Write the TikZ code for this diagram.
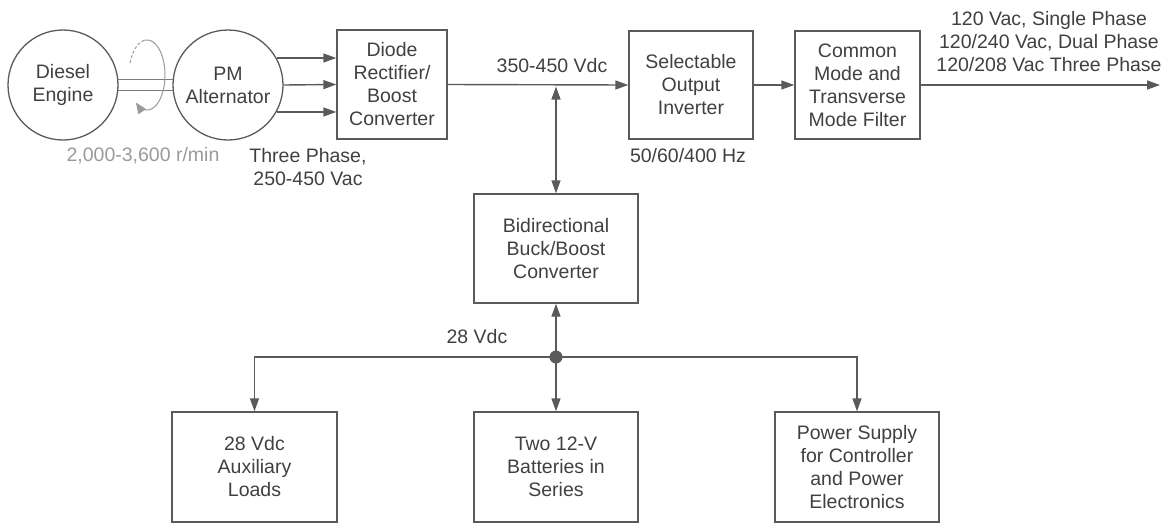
\documentclass[tikz,border=0pt]{standalone}
\usepackage{fontspec}
\setmainfont{Liberation Sans}
\usetikzlibrary{arrows.meta}
\definecolor{ln}{HTML}{5A5A5A}
\definecolor{tx}{HTML}{404040}
\definecolor{lt}{HTML}{9A9A9A}
\begin{document}
\begin{tikzpicture}[x=1pt,y=-1pt,
  every node/.style={font=\fontsize{19.5}{23}\selectfont, text=tx, align=center, inner sep=0pt},
  blk/.style={draw=ln, line width=1.4pt, rectangle},
  circ/.style={draw=ln, circle, line width=1.3pt, minimum size=110pt},
  tip/.style={-{Triangle[length=13pt,width=9pt]}},
  conn/.style={draw=ln, line width=1.4pt, tip},
  dconn/.style={draw=ln, line width=1.4pt, {Triangle[length=13pt,width=9pt]}-{Triangle[length=13pt,width=9pt]}},
  shaft/.style={draw=ln!80, line width=0.9pt},
  rot/.style={draw=lt, line width=1pt},
  lbl/.style={}
]
\useasboundingbox (0,0) rectangle (1165,523);

% generator set
\node[circ] (eng) at (63,85) {Diesel\\Engine};
\node[circ] (alt) at (228,85) {PM\\Alternator};
\draw[shaft] (eng.6) -- (alt.174);
\draw[shaft] (eng.-6) -- (alt.-174);
\draw[rot, dashed, dash pattern=on 3pt off 2pt] plot[domain=200:262, samples=30] ({147+18*cos(\x)},{75+35*sin(\x)});
\draw[rot, -{Triangle[length=11pt,width=9pt]}] plot[domain=262:488, samples=80] ({147+18*cos(\x)},{75+35*sin(\x)});
\node[text=lt] (rpm) at (143,156) {2,000-3,600 r/min};

% blocks
\node[blk, minimum width=110pt, minimum height=109pt] (dio) at (392,84.5) {Diode\\Rectifier/\\Boost\\Converter};
\node[blk, minimum width=124pt, minimum height=108pt] (inv) at (691,85) {Selectable\\Output\\Inverter};
\node[blk, minimum width=125pt, minimum height=108pt] (flt) at (857.5,85) {Common\\Mode and\\Transverse\\Mode Filter};
\node[blk, minimum width=164pt, minimum height=109pt] (bd) at (556,248.5) {Bidirectional\\Buck/Boost\\Converter};
\node[blk, minimum width=165pt, minimum height=110pt] (lb) at (254.5,467) {28 Vdc\\Auxiliary\\Loads};
\node[blk, minimum width=164pt, minimum height=110pt] (mb) at (556,467) {Two 12-V\\Batteries in\\Series};
\node[blk, minimum width=164pt, minimum height=110pt] (rb) at (857,467) {Power Supply\\for Controller\\and Power\\Electronics};

% three phase
\draw[conn] (alt.29.5) -- (alt.29.5 -| dio.west);
\draw[conn] (alt.east) -- (dio.west);
\draw[conn] (alt.-29.5) -- (alt.-29.5 -| dio.west);
\node (tp) at (308,167) {Three Phase,\\250-450 Vac};

% dc bus
\draw[conn] (dio.east) -- (inv.west);
\node (vdc) at (552,66) {350-450 Vdc};
\coordinate (busj) at (bd.north |- dio.east);
\draw[dconn, shorten <=2pt] (busj) -- (bd.north);
\node (hz) at (688,156) {50/60/400 Hz};

\draw[conn] (inv.east) -- (flt.west);
\coordinate (out) at (1160,85);
\draw[conn] (flt.east) -- (out);
\node (outl) at (1049,42) {120 Vac, Single Phase\\120/240 Vac, Dual Phase\\120/208 Vac Three Phase};

% 28 V bus
\node[circle, fill=ln, inner sep=0pt, minimum size=13pt] (jn) at (556,357) {};
\draw[conn] (jn.center) -- (bd.south);
\draw[conn] (jn.center) -- (mb.north);
\draw[conn] (jn.center) -| (lb.north);
\draw[conn] (jn.center) -| (rb.north);
\node (v28) at (477,337) {28 Vdc};
\end{tikzpicture}
\end{document}
